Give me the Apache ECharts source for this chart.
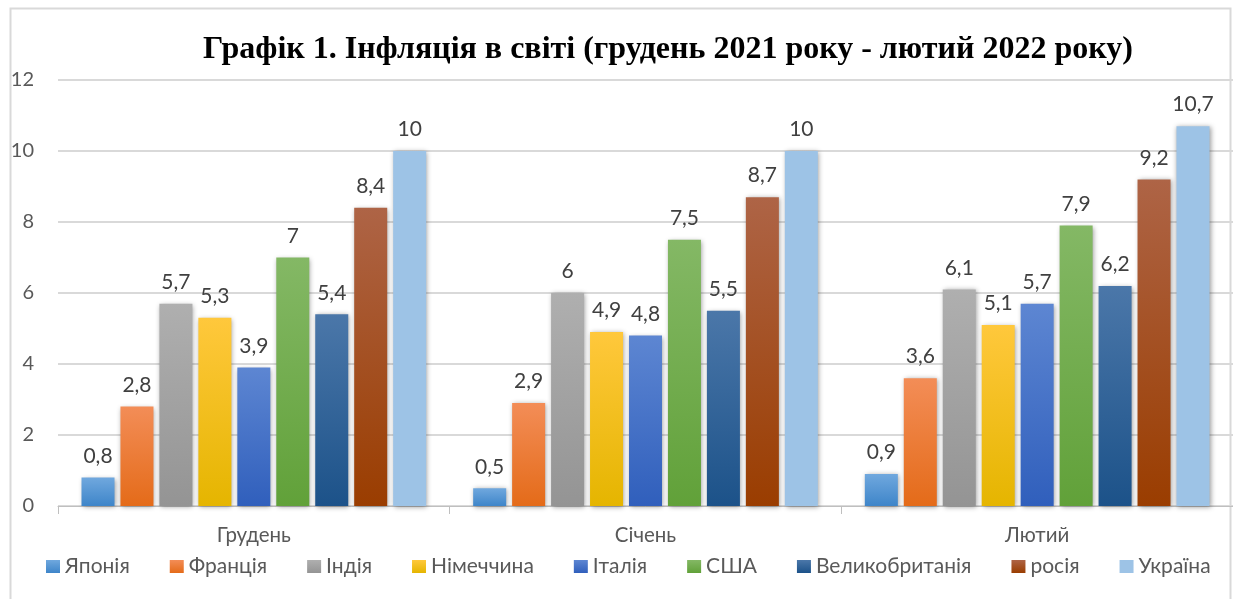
<!DOCTYPE html>
<html>
<head>
<meta charset="utf-8">
<script src="https://cdn.jsdelivr.net/npm/echarts@6/dist/echarts.min.js"></script>
<style>
  html, body { margin: 0; padding: 0; background: #fff; }
  #chart { width: 1233px; height: 599px; }
</style>
</head>
<body>
<div id="chart"></div>
<script>
// місяці
var months = ['Грудень', 'Січень', 'Лютий'];
// країни
var countries = ['Японія', 'Франція', 'Індія', 'Німеччина', 'Італія', 'США', 'Великобританія', 'росія', 'Україна'];
// інфляція, %
var japan = [0.8, 0.5, 0.9];
var france = [2.8, 2.9, 3.6];
var india = [5.7, 6, 6.1];
var germany = [5.3, 4.9, 5.1];
var italy = [3.9, 4.8, 5.7];
var usa = [7, 7.5, 7.9];
var uk = [5.4, 5.5, 6.2];
var russia = [8.4, 8.7, 9.2];
var ukraine = [10, 10, 10.7];
var yTicks = [0, 2, 4, 6, 8, 10, 12];

var seriesData = [japan, france, india, germany, italy, usa, uk, russia, ukraine];
// кольори: верх / низ градієнта
var colors = [
  ['#70a8de', '#3e85c9'],
  ['#f38d57', '#e46b19'],
  ['#afafaf', '#949494'],
  ['#ffc83c', '#e5b500'],
  ['#5d86d2', '#305fbc'],
  ['#84b865', '#61a139'],
  ['#4b77a9', '#1c5289'],
  ['#ae6446', '#9a3d00'],
  ['#9dc3e6', '#9dc3e6']
];

var chartDom = document.getElementById('chart');
var myChart = echarts.init(chartDom);

var series = countries.map(function (name, i) {
  return {
    name: name,
    type: 'bar',
    data: seriesData[i],
    barGap: '18%',
    barCategoryGap: '12%',
    itemStyle: {
      color: new echarts.graphic.LinearGradient(0, 0, 0, 1, [
        { offset: 0, color: colors[i][0] },
        { offset: 1, color: colors[i][1] }
      ]),
      shadowBlur: 5,
      shadowColor: 'rgba(0,0,0,0.4)',
      shadowOffsetX: 1,
      shadowOffsetY: 1
    },
    label: {
      show: true,
      position: 'top',
      distance: 11,
      color: '#404040',
      fontFamily: 'Lato',
      fontSize: 21,
      formatter: function (p) { return String(p.value).replace('.', ','); }
    }
  };
});

var option = {
  animation: false,
  backgroundColor: '#fff',
  title: {
    text: 'Графік 1. Інфляція в світі (грудень 2021 року - лютий 2022 року)',
    left: 663,
    textAlign: 'center',
    top: 29,
    textStyle: {
      fontFamily: 'Liberation Serif',
      fontWeight: 'bold',
      fontSize: 32,
      color: '#000'
    }
  },
  graphic: [{
    type: 'rect',
    shape: { x: 10.5, y: 8.5, width: 1220, height: 620 },
    style: { fill: 'none', stroke: '#d9d9d9', lineWidth: 2 },
    silent: true
  }],
  legend: {
    data: countries,
    bottom: 17,
    left: 41,
    itemWidth: 14,
    itemHeight: 13,
    itemGap: 40,
    icon: 'rect',
    textStyle: { fontFamily: 'Lato', fontSize: 21, color: '#595959' }
  },
  grid: { left: 58, right: 0, top: 80, bottom: 93 },
  xAxis: {
    type: 'category',
    data: months,
    axisLine: { lineStyle: { color: '#bfbfbf', width: 1 } },
    axisTick: { show: true, length: 8, lineStyle: { color: '#bfbfbf' } },
    axisLabel: { fontFamily: 'Lato', fontSize: 20.5, color: '#595959', margin: 19 }
  },
  yAxis: {
    type: 'value',
    min: yTicks[0],
    max: yTicks[yTicks.length - 1],
    interval: 2,
    axisLine: { show: false },
    axisTick: { show: false },
    splitLine: { lineStyle: { color: '#d9d9d9', width: 2 } },
    axisLabel: { fontFamily: 'Lato', fontSize: 20, color: '#595959', margin: 24 }
  },
  series: series
};

myChart.setOption(option);
</script>
</body>
</html>
